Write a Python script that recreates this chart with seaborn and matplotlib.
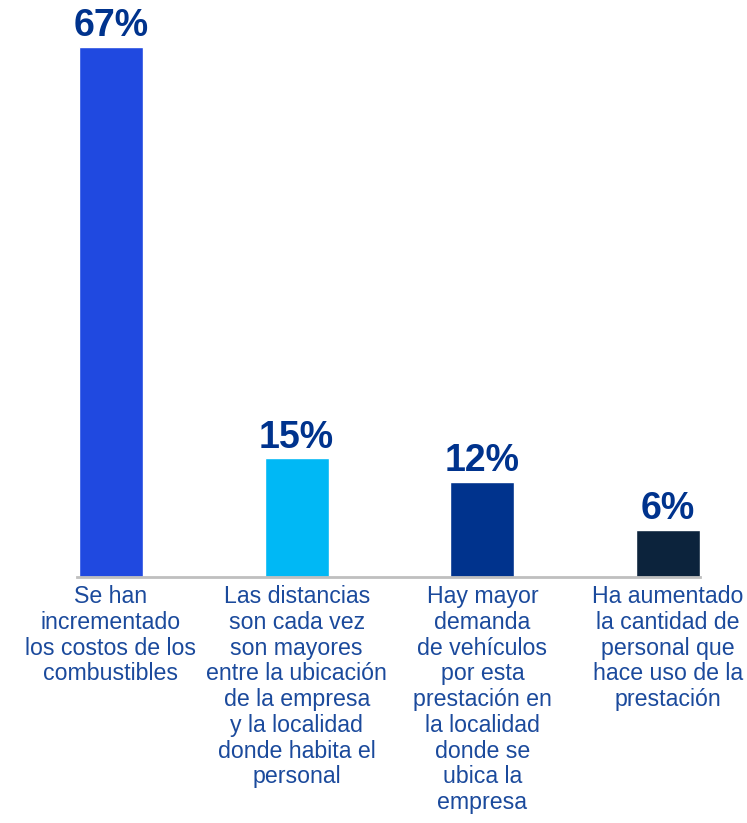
import matplotlib
matplotlib.use("Agg")
import matplotlib.pyplot as plt
import seaborn as sns
import pandas as pd

categories = [
    "Se han\nincrementado\nlos costos de los\ncombustibles",
    "Las distancias\nson cada vez\nson mayores\nentre la ubicación\nde la empresa\ny la localidad\ndonde habita el\npersonal",
    "Hay mayor\ndemanda\nde vehículos\npor esta\nprestación en\nla localidad\ndonde se\nubica la\nempresa",
    "Ha aumentado\nla cantidad de\npersonal que\nhace uso de la\nprestación",
]
values = [67, 15, 12, 6]
value_labels = ["67%", "15%", "12%", "6%"]
colors = ["#2049E0", "#00B8F5", "#00338D", "#0C233C"]

sns.set_theme(style="white")
plt.rcParams["font.family"] = ["Liberation Sans", "DejaVu Sans"]

df = pd.DataFrame({"cat": categories, "val": values})

fig = plt.figure(figsize=(7.47, 8.23), dpi=100)
ax = fig.add_axes([77 / 747, (823 - 577) / 823, (700 - 77) / 747, (577 - 47) / 823])

sns.barplot(data=df, x="cat", y="val", hue="cat", palette=colors,
            legend=False, width=0.345, saturation=1, ax=ax)

ax.set_xlim(-0.183, 3.172)
ax.set_ylim(0, 67)
ax.set_xlabel("")
ax.set_ylabel("")
ax.set_yticks([])
for s in ["top", "right", "left"]:
    ax.spines[s].set_visible(False)
ax.spines["bottom"].set_color("#BFBFBF")
ax.spines["bottom"].set_linewidth(2)

ax.tick_params(axis="x", length=0, pad=6)
ax.set_xticks(range(len(categories)))
ax.set_xticklabels(categories, fontsize=16.7, color="#1B4A9C",
                   linespacing=1.15, va="top")

for i, (v, lab) in enumerate(zip(values, value_labels)):
    ax.annotate(lab, (i, v), xytext=(0, 2), textcoords="offset points",
                ha="center", va="bottom", fontsize=27, fontweight="bold",
                color="#00338D", clip_on=False)

fig.savefig("out.png", dpi=100)
